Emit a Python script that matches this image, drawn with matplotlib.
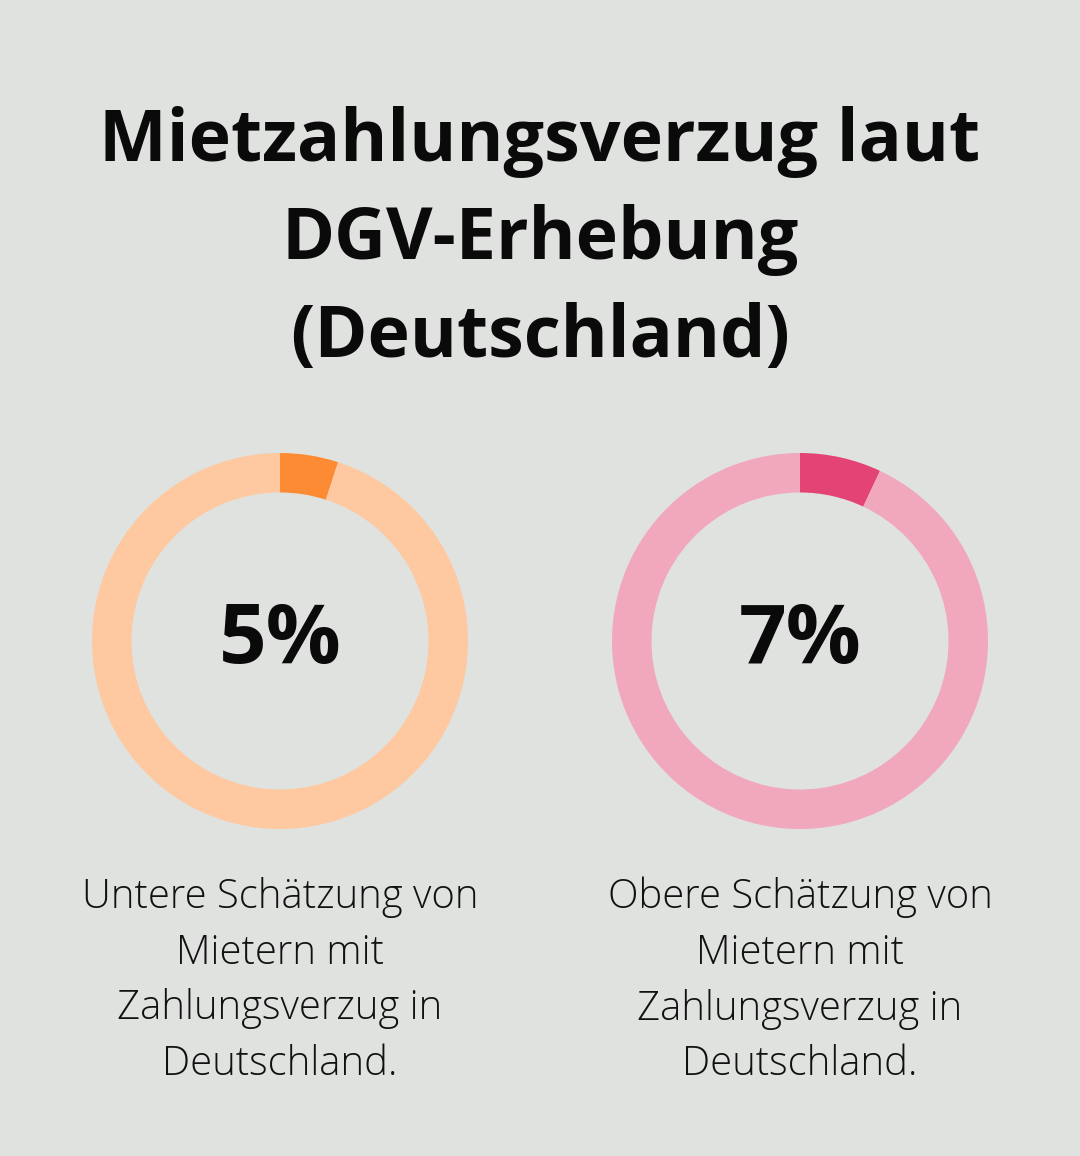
import matplotlib.pyplot as plt

# data
title = "Mietzahlungsverzug laut\nDGV-Erhebung\n(Deutschland)"
values = [5, 7]
labels = ["5%", "7%"]
captions = [
    "Untere Schätzung von\nMietern mit\nZahlungsverzug in\nDeutschland.",
    "Obere Schätzung von\nMietern mit\nZahlungsverzug in\nDeutschland.",
]
dark_colors = ["#fd8b33", "#e44474"]
light_colors = ["#fec9a0", "#f1a8bd"]

bg = "#e0e2e0"
W, H = 1080, 1156
fig = plt.figure(figsize=(W / 100, H / 100), dpi=100, facecolor=bg)

fig.text(0.5, 1 - 240 / H, title, ha="center", va="center",
         fontsize=51.7, fontweight="bold", family="Open Sans",
         linespacing=1.47, color="#0a0a0a")

centers_x = [280, 800]
cy = 641
r = 188
for i in range(2):
    cx = centers_x[i]
    ax = fig.add_axes([(cx - r) / W, (H - cy - r) / H, 2 * r / W, 2 * r / H])
    ax.pie([values[i], 100 - values[i]], colors=[dark_colors[i], light_colors[i]],
           startangle=90, counterclock=False, radius=1,
           wedgeprops=dict(width=0.21, linewidth=0))
    ax.set_xlim(-1, 1)
    ax.set_ylim(-1, 1)
    ax.set_aspect("equal")
    ax.axis("off")
    fig.text(cx / W, 1 - 642 / H, labels[i], ha="center", va="center",
             fontsize=60, fontweight="bold", family="Open Sans", color="#0a0a0a")
    fig.text(cx / W, 1 - 981 / H, captions[i], ha="center", va="center",
             fontsize=28.8, fontweight="light", family="Open Sans",
             linespacing=1.47, color="#111111")

fig.savefig("out.png", dpi=100, facecolor=bg)
